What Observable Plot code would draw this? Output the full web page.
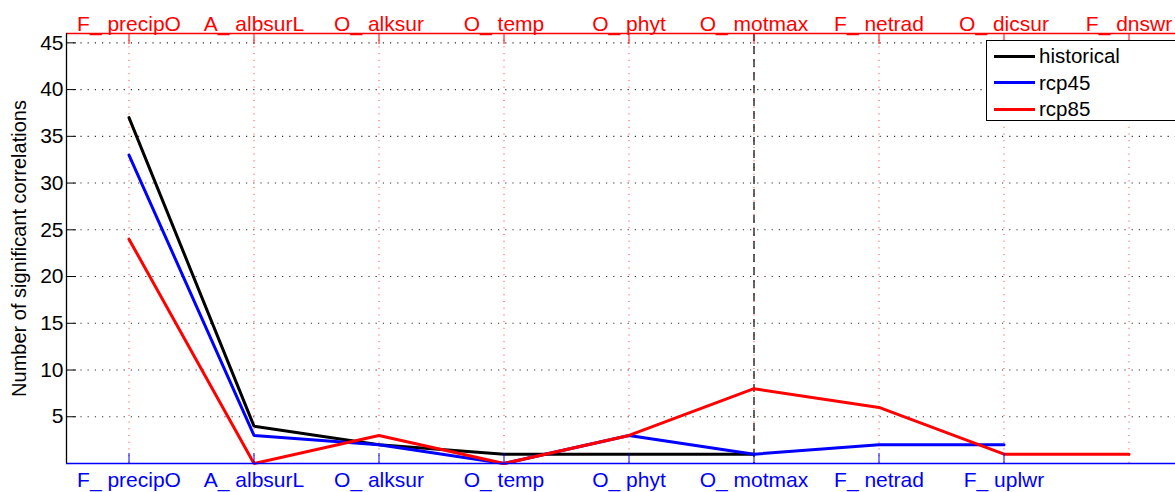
<!DOCTYPE html>
<html>
<head>
<meta charset="utf-8">
<script src="https://cdn.jsdelivr.net/npm/d3@7"></script>
<script src="https://cdn.jsdelivr.net/npm/@observablehq/plot@0.6"></script>
<style>
  body { margin: 0; background: #fff; font-family: "Liberation Sans", Arial, sans-serif; }
  #wrap { position: relative; width: 1175px; height: 492px; overflow: hidden; }
  #legend { position: absolute; left: 986px; top: 40px; width: 200px; height: 81px; border: 1.3px solid #000; background: #fff; box-sizing: border-box; font-size: 20.5px; }
  .row { position: absolute; left: 7px; height: 26px; display: flex; align-items: center; }
  .sw { width: 41px; height: 3px; margin-right: 4px; }
</style>
</head>
<body>
<div id="wrap"><div id="chart"></div><div id="legend"></div></div>
<script>
const bottomLabels = ["F_ precipO", "A_ albsurL", "O_ alksur", "O_ temp", "O_ phyt", "O_ motmax", "F_ netrad", "F_ uplwr"];
const topLabels = ["F_ precipO", "A_ albsurL", "O_ alksur", "O_ temp", "O_ phyt", "O_ motmax", "F_ netrad", "O_ dicsur", "F_ dnswr"];
const seriesNames = ["historical", "rcp45", "rcp85"];
const seriesColors = ["#000000", "#0000ff", "#ff0000"];
const historical = [37, 4, 2, 1, 1, 1];
const rcp45 = [33, 3, 2, 0, 3, 1, 2, 2];
const rcp85 = [24, 0, 3, 0, 3, 8, 6, 1, 1];
const yTicks = [5, 10, 15, 20, 25, 30, 35, 40, 45];
const dashedAt = [6];

const allSeries = [historical, rcp45, rcp85];
const data = allSeries.flatMap((vals, s) => vals.map((v, i) => ({series: seriesNames[s], x: i + 1, y: v})));
const xTop = topLabels.map((_, i) => i + 1);
const xBottom = bottomLabels.map((_, i) => i + 1);

const chart = Plot.plot({
  width: 1175,
  height: 492,
  marginLeft: 66,
  marginRight: 0,
  marginTop: 33,
  marginBottom: 29,
  style: {fontFamily: "Liberation Sans, Arial, sans-serif", fontSize: "21px", background: "#fff"},
  x: {domain: [0.5, 9.5], range: [66, 1191]},
  y: {domain: [0, 46]},
  color: {domain: seriesNames, range: seriesColors},
  marks: [
    Plot.ruleY(yTicks, {stroke: "#333", strokeDasharray: "1.2,6", strokeWidth: 1.1}),
    Plot.ruleX(xTop, {stroke: "#ff0000", strokeDasharray: "1,5.7", strokeWidth: 1, strokeOpacity: 0.8}),
    Plot.ruleX(dashedAt, {stroke: "#000", strokeDasharray: "8,5", strokeWidth: 1.2}),
    Plot.line(data, {x: "x", y: "y", z: "series", stroke: "series", strokeWidth: 3, strokeLinejoin: "miter"}),
    Plot.ruleY([0], {stroke: "#0000ff", strokeWidth: 1.3}),
    Plot.ruleY([46], {stroke: "#ff0000", strokeWidth: 1.3}),
    Plot.ruleX([0.5], {stroke: "#000", strokeWidth: 1.3}),
    Plot.axisY({ticks: yTicks, tickSize: -10, tickPadding: 13, stroke: "#000", fill: "#000", fontSize: 21, label: null}),
    Plot.axisX({anchor: "top", ticks: xTop, tickFormat: (d) => topLabels[d - 1], tickSize: -10, tickPadding: 13, stroke: "#ff0000", fill: "#ff0000", fontSize: 21, label: null}),
    Plot.axisX({anchor: "bottom", ticks: xBottom, tickFormat: (d) => bottomLabels[d - 1], tickSize: -10, tickPadding: 19, stroke: "#0000ff", fill: "#0000ff", fontSize: 21, label: null}),
    Plot.text(["Number of significant correlations"], {frameAnchor: "left", textAnchor: "middle", dx: -47, rotate: -90, fontSize: 20, fill: "#000"})
  ]
});
document.getElementById("chart").appendChild(chart);

const legend = document.getElementById("legend");
seriesNames.forEach((name, i) => {
  const row = document.createElement("div");
  row.className = "row";
  row.style.top = (2 + i * 26.5) + "px";
  row.innerHTML = `<div class="sw" style="background:${seriesColors[i]}"></div><span>${name}</span>`;
  legend.appendChild(row);
});
</script>
</body>
</html>
